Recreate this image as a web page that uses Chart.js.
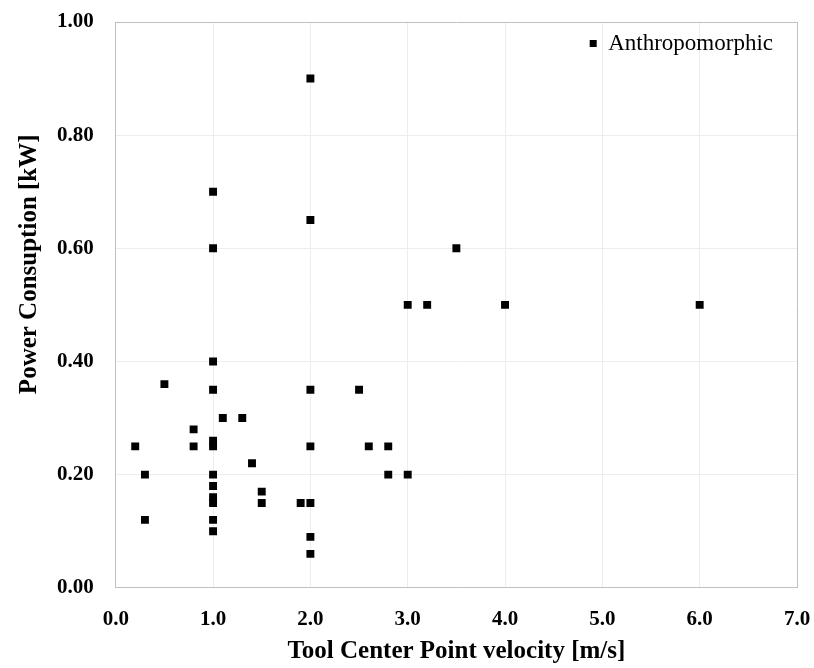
<!DOCTYPE html>
<html>
<head>
<meta charset="utf-8">
<script src="https://cdn.jsdelivr.net/npm/chart.js@4/dist/chart.umd.min.js"></script>
<style>
  html, body { margin: 0; padding: 0; background: #fff; }
  #wrap { width: 814px; height: 668px; }
</style>
</head>
<body>
<div id="wrap"><canvas id="c" width="814" height="668"></canvas></div>
<script>
const seriesName = "Anthropomorphic";
const velocity = [0.2, 0.3, 0.3, 0.5, 0.8, 0.8, 1.0, 1.0, 1.0, 1.0, 1.0, 1.0, 1.0, 1.0, 1.0, 1.0, 1.0, 1.0, 1.1, 1.3, 1.4, 1.5, 1.5, 1.9, 2.0, 2.0, 2.0, 2.0, 2.0, 2.0, 2.0, 2.5, 2.6, 2.8, 2.8, 3.0, 3.0, 3.2, 3.5, 4.0, 6.0];
const power    = [0.25, 0.20, 0.12, 0.36, 0.28, 0.25, 0.70, 0.60, 0.40, 0.35, 0.26, 0.25, 0.20, 0.18, 0.16, 0.15, 0.12, 0.10, 0.30, 0.30, 0.22, 0.17, 0.15, 0.15, 0.90, 0.65, 0.35, 0.25, 0.15, 0.09, 0.06, 0.35, 0.25, 0.25, 0.20, 0.20, 0.50, 0.50, 0.60, 0.50, 0.50];
const xTitle = "Tool Center Point velocity [m/s]";
const yTitle = "Power Consuption [kW]";
const xMin = 0, xMax = 7, xStep = 1;
const yMin = 0, yMax = 1, yStep = 0.2;

const points = velocity.map((v, i) => ({ x: v, y: power[i] }));
const FONT = "'Liberation Serif', 'Times New Roman', serif";
const gridCol = '#ededed';
const frameCol = '#c0c0c0';

// place the library's own legend in the top-right corner inside the plot area
const legendInside = {
  id: 'legendInside',
  afterLayout(chart) {
    const lg = chart.legend, ca = chart.chartArea;
    if (!lg) return;
    const w = lg.width, h = lg.height;
    lg.left = ca.right - w - 14;
    lg.right = lg.left + w;
    lg.top = ca.top;
    lg.bottom = lg.top + h;
  }
};

new Chart(document.getElementById('c'), {
  type: 'scatter',
  data: {
    datasets: [{
      label: seriesName,
      data: points,
      pointStyle: 'rect',
      pointRadius: 5.6,
      pointHoverRadius: 5.6,
      backgroundColor: '#000',
      borderColor: '#000',
      borderWidth: 0
    }]
  },
  plugins: [legendInside],
  options: {
    responsive: false,
    animation: false,
    layout: { padding: { top: 22, right: 17, left: 0, bottom: 0 } },
    plugins: {
      tooltip: { enabled: false },
      legend: {
        position: 'chartArea',
        align: 'start',
        labels: {
          usePointStyle: true,
          pointStyle: 'rect',
          boxWidth: 7,
          boxHeight: 7,
          padding: 10,
          color: '#000',
          font: { family: FONT, size: 23 }
        }
      }
    },
    scales: {
      x: {
        type: 'linear',
        min: xMin, max: xMax,
        ticks: {
          stepSize: xStep,
          padding: 3,
          color: '#000',
          font: { family: FONT, size: 21, weight: 'bold' },
          callback: v => Number(v).toFixed(1)
        },
        grid: {
          drawTicks: true,
          tickLength: 16,
          tickColor: 'rgba(0,0,0,0)',
          color: ctx => (ctx.tick && ctx.tick.value === xMax) ? frameCol : gridCol,
          lineWidth: 1
        },
        border: { color: frameCol, width: 1 },
        title: {
          display: true,
          text: xTitle,
          color: '#000',
          font: { family: FONT, size: 25, weight: 'bold' },
          padding: { top: 2, bottom: 1 }
        }
      },
      y: {
        type: 'linear',
        min: yMin, max: yMax,
        ticks: {
          stepSize: yStep,
          padding: 3,
          color: '#000',
          font: { family: FONT, size: 21, weight: 'bold' },
          callback: v => Number(v).toFixed(2)
        },
        grid: {
          drawTicks: true,
          tickLength: 19,
          tickColor: 'rgba(0,0,0,0)',
          color: ctx => (ctx.tick && Math.abs(ctx.tick.value - yMax) < 1e-9) ? frameCol : gridCol,
          lineWidth: 1
        },
        border: { color: frameCol, width: 1 },
        title: {
          display: true,
          text: '             ' + yTitle,
          color: '#000',
          font: { family: FONT, size: 25, weight: 'bold' },
          padding: { top: 15, bottom: 9 }
        }
      }
    }
  }
});
</script>
</body>
</html>
